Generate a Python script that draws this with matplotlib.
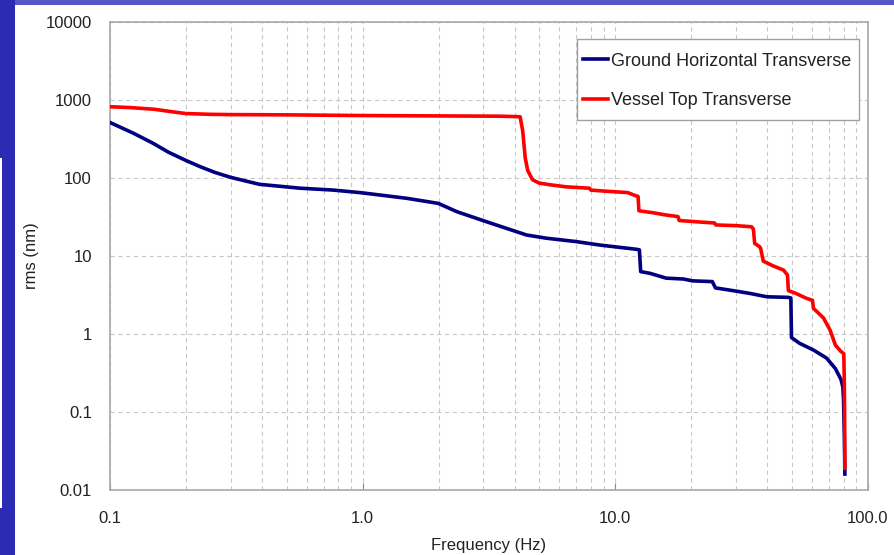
import matplotlib
matplotlib.use("Agg")
import matplotlib.pyplot as plt
from matplotlib.patches import Rectangle
from matplotlib.ticker import FixedLocator, FixedFormatter, LogLocator, NullFormatter

plt.rcParams['font.family'] = ['Liberation Sans', 'DejaVu Sans']

# ---- data ----
red_label = "Vessel Top Transverse"
red_f = [0.1, 0.12, 0.15, 0.18, 0.2, 0.25, 0.3, 0.5, 1.0, 2.0, 3.5, 4.2, 4.3, 4.4, 4.5,
         4.7, 5.0, 5.5, 6.4, 7.9, 8.0, 9.0, 11.2, 11.9, 12.3, 12.4, 14.0, 15.9, 17.7,
         17.9, 21.5, 24.7, 25.0, 30.0, 34.6, 35.2, 35.6, 37.2, 37.6, 38.5, 42.0, 46.3,
         48.0, 48.4, 52.0, 57.0, 60.3, 60.8, 66.7, 70.8, 74.3, 78.0, 80.2, 80.5, 80.8, 81.0]
red_v = [820, 800, 760, 700, 670, 655, 650, 645, 632, 625, 620, 610, 400, 180, 125,
         95, 86, 82, 77, 74, 70, 68, 65, 60, 58, 38, 36, 33.5, 32,
         28.5, 27.3, 26.5, 25, 24.5, 23.7, 22, 14.5, 13.2, 12.5, 8.6, 7.5, 6.6,
         5.7, 3.6, 3.3, 2.87, 2.7, 2.14, 1.6, 1.12, 0.72, 0.6, 0.56, 0.3, 0.1, 0.019]

blue_label = "Ground Horizontal Transverse"
blue_f = [0.1, 0.124, 0.148, 0.17, 0.198, 0.227, 0.26, 0.3, 0.39, 0.565, 0.765, 0.975,
          1.1, 1.49, 1.99, 2.36, 3.0, 3.71, 4.45, 5.34, 7.0, 8.7, 12.1, 12.45, 12.6,
          13.7, 15.9, 18.6, 20.2, 24.2, 24.9, 30.0, 34.3, 39.8, 48.2, 49.5, 49.8, 53.6,
          61.0, 68.6, 74.3, 78.2, 79.5, 80.0, 80.6, 81.0]
blue_v = [515, 374, 279, 215, 170, 140, 118, 102, 83, 74, 70, 65,
          62, 55, 47.3, 37, 28.4, 22.6, 18.6, 16.9, 15.3, 13.8, 12.2, 12.0, 6.3,
          6.0, 5.2, 5.07, 4.8, 4.7, 3.9, 3.55, 3.3, 3.0, 2.95, 2.9, 0.9, 0.76,
          0.62, 0.49, 0.36, 0.26, 0.21, 0.15, 0.05, 0.016]

x_ticks = [0.1, 1.0, 10.0, 100.0]
x_tick_labels = ["0.1", "1.0", "10.0", "100.0"]
y_ticks = [0.01, 0.1, 1, 10, 100, 1000, 10000]
y_tick_labels = ["0.01", "0.1", "1", "10", "100", "1000", "10000"]

W, H = 894, 555
fig = plt.figure(figsize=(W / 100, H / 100), dpi=100)
fig.patch.set_facecolor('white')

# slide decoration
fig.patches.append(Rectangle((0, 1 - 5 / H), 1, 5 / H, transform=fig.transFigure,
                             facecolor='#5656c4', edgecolor='none', zorder=0))
fig.patches.append(Rectangle((0, 0), 15 / W, 1, transform=fig.transFigure,
                             facecolor='#2b2bb3', edgecolor='none', zorder=0))
fig.patches.append(Rectangle((0, 47 / H), 2 / W, 350 / H, transform=fig.transFigure,
                             facecolor='white', edgecolor='none', zorder=0))

ax = fig.add_axes([110 / W, 1 - 490 / H, 758 / W, 468 / H])
ax.set_xscale('log')
ax.set_yscale('log')
ax.set_xlim(0.1, 100)
ax.set_ylim(0.01, 10000)

ax.plot(blue_f, blue_v, color='#000080', lw=2.6, label=blue_label, solid_joinstyle='round', zorder=3)
ax.plot(red_f, red_v, color='#ff0000', lw=2.6, label=red_label, solid_joinstyle='round', zorder=3)

ax.xaxis.set_major_locator(FixedLocator(x_ticks))
ax.xaxis.set_major_formatter(FixedFormatter(x_tick_labels))
ax.xaxis.set_minor_locator(LogLocator(base=10, subs=range(2, 10)))
ax.xaxis.set_minor_formatter(NullFormatter())
ax.yaxis.set_major_locator(FixedLocator(y_ticks))
ax.yaxis.set_major_formatter(FixedFormatter(y_tick_labels))
ax.yaxis.set_minor_locator(FixedLocator([]))

ax.grid(True, which='major', axis='both', color='#c8c8c8', ls=(0, (4, 3)), lw=0.8)
ax.grid(True, which='minor', axis='x', color='#c8c8c8', ls=(0, (4, 3)), lw=0.8)

ax.tick_params(axis='x', which='major', direction='in', length=5, color='#888888',
               labelsize=12, labelcolor='#222222', pad=15)
ax.tick_params(axis='x', which='minor', length=0)
ax.tick_params(axis='y', which='major', length=0, labelsize=12, labelcolor='#222222', pad=13)

for s in ax.spines.values():
    s.set_color('#a8a8a8')
    s.set_linewidth(1.2)

ax.set_xlabel("Frequency (Hz)", fontsize=12, color='#222222')
ax.xaxis.set_label_coords(0.5, (490 - 538) / 468)
ax.set_ylabel("rms (nm)", fontsize=12, color='#222222')
ax.yaxis.set_label_coords((39 - 110) / 758, 0.5)

# legend box
ax.add_patch(Rectangle((576.7 / W, 1 - 120 / H), (859.3 - 576.7) / W, (120 - 39.3) / H,
                       transform=fig.transFigure, facecolor='white', edgecolor='#a0a0a0',
                       lw=1.0, zorder=4))
leg = ax.legend(loc='center left', bbox_to_anchor=(579 / W, 1 - 81 / H),
                bbox_transform=fig.transFigure, borderaxespad=0, fontsize=13,
                frameon=False, handlelength=1.4, handletextpad=0.17,
                labelspacing=1.25, borderpad=0.2)
leg.set_zorder(5)
for t in leg.get_texts():
    t.set_color('#222222')

fig.savefig("out.png", dpi=100)
